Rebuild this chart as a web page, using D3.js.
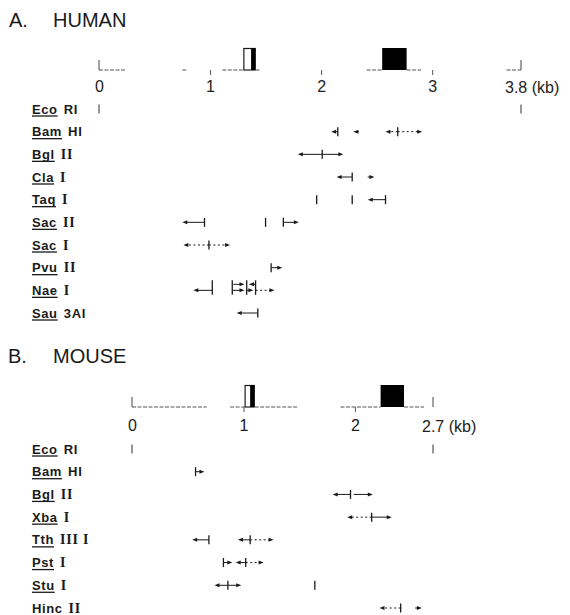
<!DOCTYPE html>
<html><head><meta charset="utf-8">
<script src="https://cdn.jsdelivr.net/npm/d3@7"></script>
<style>body{margin:0;background:#fff}svg{display:block}</style>
</head><body>
<script>
// ---------- DATA ----------
// Human
const humanGenus  = ["Eco","Bam","Bgl","Cla","Taq","Sac","Sac","Pvu","Nae","Sau"];
const humanSuffix = ["RI","HI","II","I","I","II","I","II","I","3AI"];
const humanTicks = [0,1,2,3];
const humanEnd = 3.8;
const humanExons = [{start:1.30,end:1.41,type:"open"},{start:2.55,end:2.77,type:"filled"}];
const humanBaseline = [[0,0.24],[0.75,0.80],[1.11,1.30],[1.41,1.45],[2.41,2.55],[2.77,2.90],[3.67,3.8]];
// sites: [row, kb]
const humanSites = [[0,0],[0,3.8],[1,2.15],[1,2.69],[2,2.01],[3,2.28],[4,1.96],[4,2.28],[4,2.58],
  [5,0.95],[5,1.50],[5,1.66],[6,0.99],[7,1.55],[8,1.02],[8,1.20],[8,1.33],[8,1.41],[9,1.43]];
// arrows: [row, lane, fromKb, toKb, dotted]
const humanArrows = [[1,0,2.15,2.09,0],[1,0,2.34,2.29,0],[1,0,2.69,2.58,1],[1,0,2.69,2.91,1],
  [2,0,2.01,1.79,0],[2,0,2.01,2.20,0],[3,0,2.28,2.14,0],[3,0,2.42,2.48,0],[4,0,2.58,2.42,0],
  [5,0,0.95,0.75,0],[5,0,1.66,1.80,0],[6,0,0.99,0.76,1],[6,0,0.99,1.18,1],[7,0,1.55,1.65,0],
  [8,0,1.02,0.85,0],[8,0,1.20,1.31,0],[8,0,1.33,1.39,0],[8,0,1.41,1.58,1],[8,1,1.21,1.31,0],[8,1,1.41,1.35,0],
  [9,0,1.43,1.24,0]];
// Mouse
const mouseGenus  = ["Eco","Bam","Bgl","Xba","Tth","Pst","Stu","Hinc"];
const mouseSuffix = ["RI","HI","II","I","III I","I","I","II"];
const mouseUnderline = [1,1,1,1,1,1,1,0];
const mouseTicks = [0,1,2];
const mouseEnd = 2.7;
const mouseExons = [{start:1.01,end:1.10,type:"open"},{start:2.23,end:2.44,type:"filled"}];
const mouseBaseline = [[0,0.67],[0.88,1.01],[1.10,1.49],[1.87,2.23],[2.44,2.62]];
const mouseSites = [[0,0],[0,2.7],[1,0.57],[2,1.96],[3,2.15],[4,0.69],[4,1.06],[5,0.82],[5,1.02],[6,0.86],[6,1.64],[7,2.41]];
const mouseArrows = [[1,0,0.57,0.65,0],[2,0,1.96,1.80,0],[2,0,1.99,2.16,0],[3,0,2.15,1.93,1],[3,0,2.15,2.33,0],
  [4,0,0.69,0.54,0],[4,0,1.06,0.95,0],[4,0,1.06,1.27,1],[5,0,0.82,0.90,0],[5,0,1.02,0.93,0],[5,0,1.02,1.18,1],
  [6,0,0.86,0.74,0],[6,0,0.86,0.98,0],[7,0,2.41,2.22,1],[7,0,2.54,2.60,0]];

// ---------- DRAW ----------
const W=570,H=615, ink="#1a1a1a";
const svg=d3.select("body").append("svg").attr("width",W).attr("height",H);

function panel(o){
  const g=svg.append("g");
  const x=d3.scaleLinear().domain([0,o.end]).range(o.range);
  const yRow=d3.scalePoint().domain(d3.range(o.genus.length)).range(o.rowRange);
  const by=o.baseY;
  // title
  g.append("text").attr("x",o.titleX).attr("y",o.titleY).text(o.letter)
    .attr("font-family","Liberation Sans, Arial").attr("font-size",20).attr("fill",ink);
  g.append("text").attr("x",53).attr("y",o.titleY).text(o.name)
    .attr("font-family","Liberation Sans, Arial").attr("font-size",20).attr("fill",ink);
  // baseline segments
  g.selectAll(".bl").data(o.baseline).join("line")
    .attr("x1",d=>x(d[0])).attr("x2",d=>x(d[1])).attr("y1",by).attr("y2",by)
    .attr("stroke","#555").attr("stroke-width",1).attr("stroke-dasharray","4,1.5");
  // end marks
  [0,o.end].forEach(v=>g.append("line").attr("x1",x(v)).attr("x2",x(v)).attr("y1",by-10).attr("y2",by)
    .attr("stroke","#444").attr("stroke-width",1));
  // exons
  o.exons.forEach(e=>{
    if(e.type==="filled"){
      g.append("rect").attr("x",x(e.start)).attr("y",by-22).attr("width",x(e.end)-x(e.start)).attr("height",22).attr("fill","#000");
    } else {
      g.append("rect").attr("x",x(e.start)+0.5).attr("y",by-21.5).attr("width",x(e.end)-x(e.start)-1).attr("height",21.5)
        .attr("fill","#fff").attr("stroke",ink).attr("stroke-width",1.2);
      g.append("rect").attr("x",x(e.end)-4.5).attr("y",by-22).attr("width",4.5).attr("height",22).attr("fill","#000");
    }
  });
  // axis
  const ax=d3.axisBottom(x).tickValues(o.ticks).tickSize(5).tickPadding(o.pad)
    .tickFormat(d3.format("d"));
  const ag=g.append("g").attr("transform",`translate(0,${by})`).call(ax);
  ag.select(".domain").remove();
  ag.selectAll(".tick line").attr("stroke","#555").attr("stroke-width",1).filter(d=>d===0).remove();
  ag.selectAll(".tick text").attr("font-family","Liberation Sans, Arial").attr("font-size",16).attr("fill","#222");
  g.append("text").attr("x",x(o.end)-o.endOff).attr("y",by+o.pad+5+11.5).text(o.end+" (kb)")
    .attr("font-family","Liberation Sans, Arial").attr("font-size",16).attr("fill","#222");
  // labels
  o.genus.forEach((gn,i)=>{
    const y=yRow(i);
    const t=g.append("text").attr("x",32).attr("y",y+4.5).attr("fill",ink)
      .attr("font-family","Liberation Sans, Arial").attr("font-size",13).attr("font-weight","bold").attr("letter-spacing",0.6).text(gn);
    const w=t.node().getComputedTextLength();
    const roman=/^[I ]+$/.test(o.suffix[i]);
    g.append("text").attr("x",32+w+6).attr("y",y+4.5).attr("fill",ink)
      .attr("font-family",roman?"Liberation Serif, Times":"Liberation Sans, Arial")
      .attr("font-size",roman?14:13).attr("font-weight","bold").attr("letter-spacing",0.8).text(o.suffix[i]);
    if(!o.underline || o.underline[i])
      g.append("line").attr("x1",32).attr("x2",32+w).attr("y1",y+7).attr("y2",y+7).attr("stroke",ink).attr("stroke-width",1.3);
  });
  // sites
  const tallRows=new Set(o.arrows.filter(a=>a[1]===1).map(a=>a[0]));
  g.selectAll(".site").data(o.sites).join("line")
    .attr("x1",d=>x(d[1])).attr("x2",d=>x(d[1]))
    .attr("y1",d=>yRow(d[0])-(tallRows.has(d[0])?10:4.5)).attr("y2",d=>yRow(d[0])+4.5)
    .attr("stroke",ink).attr("stroke-width",d=>d[0]===0?0.9:1.3);
  // arrows
  o.arrows.forEach(a=>{
    const y=yRow(a[0])-a[1]*6;
    const x0=x(a[2]),x1=x(a[3]),dir=Math.sign(x1-x0);
    g.append("line").attr("x1",x0).attr("x2",x1-dir*4).attr("y1",y).attr("y2",y)
      .attr("stroke",ink).attr("stroke-width",1).attr("stroke-dasharray",a[4]?"2,2.5":null);
    g.append("path").attr("d",`M${x1},${y}L${x1-dir*5},${y-2}L${x1-dir*5},${y+2}Z`).attr("fill",ink);
  });
}

panel({letter:"A.",name:"HUMAN",titleX:9,titleY:27,end:humanEnd,range:[99,521],baseY:70,
  genus:humanGenus,suffix:humanSuffix,rowRange:[109,313],exons:humanExons,baseline:humanBaseline,
  ticks:humanTicks,pad:6,endOff:16,sites:humanSites,arrows:humanArrows});
panel({letter:"B.",name:"MOUSE",titleX:8,titleY:363,end:mouseEnd,range:[132,433],baseY:407,
  genus:mouseGenus,suffix:mouseSuffix,underline:mouseUnderline,rowRange:[449,608],exons:mouseExons,baseline:mouseBaseline,
  ticks:mouseTicks,pad:8,endOff:11,sites:mouseSites,arrows:mouseArrows});
</script>
</body></html>
